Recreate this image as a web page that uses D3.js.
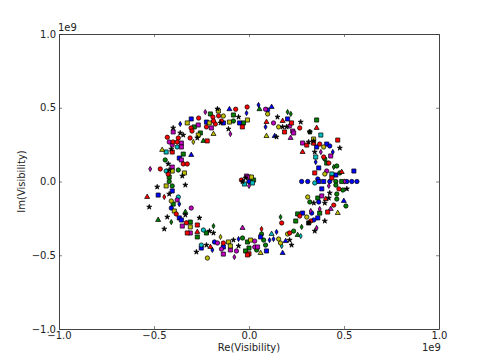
<!DOCTYPE html>
<html>
<head>
<meta charset="utf-8">
<script src="https://cdn.jsdelivr.net/npm/d3@7"></script>
<style>
  html, body { margin: 0; padding: 0; background: #fff; }
  svg { display: block; }
  text { font-family: "DejaVu Sans", sans-serif; font-size: 10px; fill: #222; }
</style>
</head>
<body>
<script>
// visibility samples in units of 1e9: [re, im, marker]
// marker: 0 circle, 1 square, 2 triangle, 3 star, 4 diamond
var redVis = [[-.01,.505,0],[-.16,.445,0],[-.19,.437,0],[-.07,.49,0],[-.265,.43,0],[-.305,.363,0],[-.30,.342,0],[-.177,.39,0],[-.187,.41,0],[-.224,.37,0],[-.145,.41,0],[-.035,.37,1],[-.43,.30,0],[-.372,.295,0],[-.31,.295,0],[-.22,.275,1],[-.40,.268,0],[-.378,.268,0],[-.404,.20,1],[-.346,.119,0],[-.325,.119,0],[-.467,.085,0],[-.425,.05,0],[.177,.41,2],[.224,.397,1],[.092,.403,2],[.187,.336,1],[.267,.363,0],[.356,.363,2],[.304,.247,1],[.34,.26,1],[.372,.254,0],[.467,.281,1],[.282,.20,2],[.393,.166,0],[.42,.125,0],[.488,.064,2],[.346,.058,1],[.436,.024,1],[.473,-.05,0],[.404,-.119,2],[.446,-.16,0],[.414,-.207,1],[.267,-.234,0],[.172,-.281,0],[.325,-.268,0],[.066,-.322,4],[.214,-.349,0],[0,-.49,1],[-.536,-.105,2],[-.446,-.105,4],[-.383,-.22,0],[-.33,-.28,0],[-.272,-.295,1],[-.325,-.349,1],[-.272,-.342,2],[-.135,-.417,0],[-.203,-.444,2],[-.008,-.498,1],[-.04,.01,0]];
var greenVis = [[-.203,.458,1],[-.288,.37,1],[-.082,.451,1],[-.082,.41,0],[-.029,.397,1],[-.256,.329,1],[-.24,.275,2],[-.346,.186,1],[-.441,.146,0],[-.372,.078,0],[-.42,.03,1],[.055,.49,2],[.203,.471,4],[.22,.458,4],[.32,.336,0],[.356,.417,1],[.399,.153,0],[.409,.125,1],[.446,.098,4],[.462,.105,0],[.478,.058,0],[.457,0,0],[.488,0,1],[.457,-.024,0],[.494,-.058,0],[.362,-.112,1],[.462,-.085,0],[.462,-.119,0],[.32,-.139,0],[.51,-.166,0],[.372,-.214,1],[.256,-.22,1],[.166,-.241,4],[.246,-.268,1],[.277,-.308,4],[.235,-.336,0],[.256,-.363,2],[.066,-.356,0],[.077,-.397,0],[.087,-.431,0],[.04,-.464,0],[0,-.451,1],[-.404,-.03,0],[-.42,0,0],[-.399,-.153,1],[-.335,-.207,2],[-.478,-.261,2],[-.409,-.275,4],[-.309,-.275,1],[-.272,-.376,1],[-.224,-.349,1],[-.187,-.302,4],[-.034,-.383,0],[-.008,-.41,1],[-.018,-.471,1],[.024,.01,1]];
var blueVis = [[-.103,.49,2],[-.013,.464,4],[-.304,.424,1],[-.362,.39,4],[-.224,.403,1],[-.135,.397,1],[-.05,.397,1],[-.304,.18,2],[-.367,.159,1],[.05,.519,4],[.119,.505,2],[.098,.485,0],[.203,.424,1],[.087,.37,4],[.135,.308,2],[.409,.254,1],[.425,.241,0],[.356,.234,1],[.441,.2,4],[.351,.132,4],[.367,.092,1],[.552,.071,1],[.457,.044,1],[.362,.017,0],[.277,0,0],[.309,0,0],[.367,0,1],[.393,0,1],[.425,0,0],[.515,0,0],[.541,0,0],[.568,0,0],[.383,-.05,1],[.367,-.139,0],[.499,-.132,2],[.33,-.214,0],[.282,-.214,1],[.362,-.247,1],[.341,-.261,0],[.145,-.342,4],[.061,-.376,1],[.108,-.397,4],[.129,-.39,4],[.193,-.404,2],[.092,-.471,1],[.177,-.485,2],[-.478,-.092,1],[-.404,-.064,1],[-.367,-.153,4],[-.409,-.18,0],[-.367,-.247,1],[-.356,-.261,1],[-.055,-.39,4],[-.182,-.41,0],[-.135,-.444,1],[-.193,-.464,4],[-.251,-.451,1],[0,0,0]];
var cyanVis = [[-.436,.2,1],[-.378,.234,0],[-.436,.071,0],[.378,.315,1],[.351,.166,1],[.436,.051,1],[.346,-.01,0],[.119,-.356,2],[.272,-.37,4],[.172,-.437,4],[-.372,-.105,0],[-.24,-.329,0],[-.251,-.431,0],[-.024,-.017,1],[.018,-.01,1]];
var magentaVis = [[-.23,.471,4],[-.267,.383,1],[-.198,.363,1],[-.098,.322,4],[-.399,.336,1],[-.356,.261,1],[-.356,.234,1],[-.42,.268,0],[-.404,.247,0],[-.356,.146,1],[-.404,.098,1],[-.52,.085,4],[.087,.49,0],[.129,.397,0],[.214,.376,0],[.23,.342,1],[.235,.329,1],[.219,.295,2],[.282,.261,1],[.378,.2,4],[.43,.173,1],[.409,.071,0],[.42,-.03,4],[.504,0,4],[.383,-.098,1],[.372,-.186,4],[.43,-.186,2],[.325,-.2,4],[.356,-.315,4],[.03,-.404,0],[.03,-.444,0],[.045,-.444,1],[-.378,-.125,0],[-.304,-.18,0],[-.351,-.302,1],[-.309,-.349,1],[-.034,-.315,2],[-.066,-.471,0],[-.077,-.512,4],[-.135,-.492,1],[-.098,-.464,1],[-.145,-.458,0],[-.166,-.417,0],[-.013,.037,1],[0,.03,1],[0,-.03,4]];
var yellowVis = [[-.161,.478,1],[-.135,.444,0],[-.325,.397,1],[-.209,.397,1],[-.103,.403,1],[-.008,.417,1],[-.187,.322,2],[-.293,.268,4],[-.267,.315,1],[-.457,.214,2],[-.404,.071,1],[-.34,.058,1],[.098,.458,0],[.156,.37,0],[.092,.308,2],[.34,.288,1],[.393,.234,0],[.399,.051,0],[.309,-.105,0],[.304,-.241,0],[.467,-.214,2],[.203,-.356,0],[.156,-.39,0],[.166,-.417,0],[.061,-.485,2],[.008,-.397,1],[-.436,-.03,1],[-.409,-.132,0],[-.393,-.2,1],[-.309,-.308,1],[-.15,-.376,4],[-.108,-.41,1],[-.098,-.437,1],[-.219,-.519,0],[.013,.03,1]];
var blackVis = [[-.166,.492,3],[-.15,.397,3],[-.055,.437,3],[-.108,.356,3],[-.399,.363,3],[-.362,.329,3],[-.346,.315,3],[-.272,.295,3],[-.409,.22,3],[-.425,.119,3],[-.42,.078,3],[-.351,.037,3],[.15,.437,3],[.272,.403,3],[.177,.37,3],[.198,.37,3],[.145,.302,3],[.32,.336,3],[.34,.274,3],[.314,.268,3],[.346,.2,3],[.478,.227,3],[.425,-.078,3],[.42,-.112,3],[.341,-.146,3],[.399,-.146,3],[.399,-.268,3],[.314,-.281,1],[.346,-.336,3],[.214,-.397,3],[.224,-.431,3],[.515,-.05,3],[-.483,-.037,3],[-.525,-.173,3],[-.335,-.024,3],[-.43,-.241,3],[-.261,-.247,3],[-.446,-.322,3],[-.335,-.227,3],[-.42,-.085,3],[-.208,-.336,3],[-.187,-.349,3],[-.277,-.478,3],[-.224,-.431,3],[-.082,-.397,3],[-.055,-.437,3],[-.034,0,3],[-.018,.024,3]];

var axisTicks = [-1, -0.5, 0, 0.5, 1];
var width = 479, height = 363;
var margin = {top: 34, right: 40, bottom: 34, left: 59};

var groups = [
  {vis: greenVis, color: "#008000"},
  {vis: blueVis, color: "#0000ff"},
  {vis: cyanVis, color: "#00bfbf"},
  {vis: magentaVis, color: "#bf00bf"},
  {vis: yellowVis, color: "#bfbf00"},
  {vis: redVis, color: "#ff0000"},
  {vis: blackVis, color: "#000000"}
];

var x = d3.scaleLinear().domain([-1, 1]).range([margin.left, width - margin.right]);
var y = d3.scaleLinear().domain([-1, 1]).range([height - margin.bottom, margin.top]);

var svg = d3.select("body").append("svg")
    .attr("width", width)
    .attr("height", height);

var symbols = [
  d3.symbol().type(d3.symbolCircle).size(15),
  d3.symbol().type(d3.symbolSquare).size(17),
  d3.symbol().type(d3.symbolTriangle).size(11),
  d3.symbol().type(d3.symbolStar).size(8),
  d3.symbol().type(d3.symbolDiamond).size(8)
];

groups.forEach(function(g) {
  svg.append("g").selectAll("path")
      .data(g.vis)
    .enter().append("path")
      .attr("d", function(d) { return symbols[d[2]](); })
      .attr("transform", function(d) { return "translate(" + x(d[0]) + "," + y(d[1]) + ")"; })
      .attr("fill", g.color)
      .attr("stroke", "#000")
      .attr("stroke-width", 0.7);
});

function fmt(d) { return d3.format(".1f")(d).replace("-", "\u2212"); }

function styleAxis(g) {
  g.selectAll("path.domain").attr("stroke", "#444").attr("stroke-width", 1);
  g.selectAll("line").attr("stroke", "#333").attr("stroke-width", 0.6);
  g.selectAll("text").attr("fill", "#222").style("font-size", "10px");
}

// inward ticks on all four sides, labels only left and bottom
svg.append("g").attr("transform", "translate(0," + (height - margin.bottom) + ")")
    .call(d3.axisBottom(x).tickValues(axisTicks).tickFormat(fmt).tickSizeInner(-3).tickSizeOuter(0).tickPadding(3))
    .call(styleAxis);
svg.append("g").attr("transform", "translate(0," + margin.top + ")")
    .call(d3.axisTop(x).tickValues(axisTicks).tickFormat("").tickSizeInner(-3).tickSizeOuter(0))
    .call(styleAxis);
svg.append("g").attr("transform", "translate(" + margin.left + ",0)")
    .call(d3.axisLeft(y).tickValues(axisTicks).tickFormat(fmt).tickSizeInner(-3).tickSizeOuter(0).tickPadding(3))
    .call(styleAxis);
svg.append("g").attr("transform", "translate(" + (width - margin.right) + ",0)")
    .call(d3.axisRight(y).tickValues(axisTicks).tickFormat("").tickSizeInner(-3).tickSizeOuter(0))
    .call(styleAxis);

svg.append("text").attr("x", (margin.left + width - margin.right) / 2).attr("y", 351)
    .attr("text-anchor", "middle").text("Re(Visibility)");
svg.append("text").attr("transform", "translate(25," + ((margin.top + height - margin.bottom) / 2) + ") rotate(-90)")
    .attr("text-anchor", "middle").text("Im(Visibility)");
svg.append("text").attr("x", 58).attr("y", 31).text("1e9");
svg.append("text").attr("x", 422).attr("y", 351).text("1e9");
</script>
</body>
</html>
